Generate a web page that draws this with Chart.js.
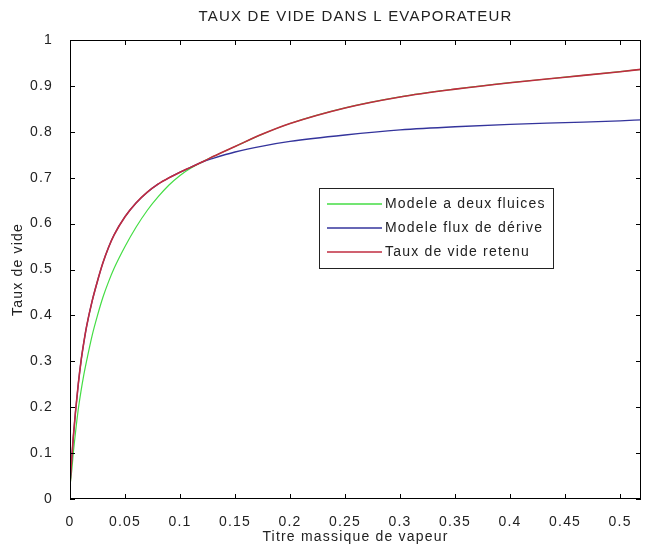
<!DOCTYPE html>
<html>
<head>
<meta charset="utf-8">
<script src="https://cdn.jsdelivr.net/npm/chart.js@4.4.1/dist/chart.umd.min.js"></script>
<style>
  html, body { margin: 0; padding: 0; background: #fff; }
</style>
</head>
<body>
<canvas id="graf" width="649" height="549"></canvas>
<script>
// Titre massique (axe x)
const titres = [0, 0.0015, 0.003, 0.005, 0.0075, 0.01, 0.0125, 0.015, 0.02, 0.025, 0.03, 0.035, 0.04, 0.05,
  0.06, 0.07, 0.08, 0.09, 0.1, 0.11, 0.12, 0.13, 0.15, 0.175, 0.2, 0.25, 0.3, 0.35, 0.4, 0.45, 0.5, 0.519];

// Taux de vide
const deuxFluides = [0.03, 0.06, 0.10, 0.145, 0.195, 0.235, 0.27, 0.30, 0.355, 0.40, 0.44, 0.473, 0.502, 0.55,
  0.592, 0.628, 0.658, 0.684, 0.705, 0.721, 0.734, 0.746, 0.768, 0.795, 0.818, 0.852, 0.876, 0.893, 0.907, 0.919, 0.931, 0.936];
const fluxDerive = [0.03, 0.085, 0.135, 0.19, 0.25, 0.30, 0.34, 0.375, 0.43, 0.475, 0.515, 0.548, 0.575, 0.615,
  0.645, 0.668, 0.686, 0.70, 0.712, 0.723, 0.734, 0.742, 0.756, 0.769, 0.779, 0.793, 0.804, 0.811, 0.816, 0.820, 0.824, 0.826];
const retenu = [0.03, 0.085, 0.135, 0.19, 0.25, 0.30, 0.34, 0.375, 0.43, 0.475, 0.515, 0.548, 0.575, 0.615,
  0.645, 0.668, 0.686, 0.70, 0.712, 0.723, 0.734, 0.746, 0.768, 0.795, 0.818, 0.852, 0.876, 0.893, 0.907, 0.919, 0.931, 0.936];

const labels = ["Modele a deux fluices", "Modele flux de dérive", "Taux de vide retenu"];
const couleurs = ["#44dd44", "#34349c", "#c02c40"];

// Graduations
const xTicks = [0, 0.05, 0.1, 0.15, 0.2, 0.25, 0.3, 0.35, 0.4, 0.45, 0.5];
const xTickLabels = ["0", "0.05", "0.1", "0.15", "0.2", "0.25", "0.3", "0.35", "0.4", "0.45", "0.5"];
const yTicks = [0, 0.1, 0.2, 0.3, 0.4, 0.5, 0.6, 0.7, 0.8, 0.9, 1];
const yTickLabels = ["0", "0.1", "0.2", "0.3", "0.4", "0.5", "0.6", "0.7", "0.8", "0.9", "1"];

const police = "'Liberation Sans', Arial, sans-serif";
const texte = "#222";

const points = serie => titres.map((t, i) => ({ x: t, y: serie[i] }));

// Cadre + petites graduations vers l'intérieur (style MATLAB) et légende dans l'axe
const cadre = {
  id: "cadre",
  beforeUpdate(chart) { chart.ctx.letterSpacing = "1.2px"; },
  beforeDraw(chart) { chart.ctx.letterSpacing = "1.2px"; },
  afterDraw(chart) {
    const { ctx, chartArea: a, scales: { x, y } } = chart;
    ctx.save();
    ctx.strokeStyle = "#000";
    ctx.lineWidth = 1;
    ctx.strokeRect(a.left + 0.5, a.top + 0.5, a.right - a.left - 1, a.bottom - a.top - 1);
    ctx.beginPath();
    xTicks.forEach(v => {
      const px = Math.round(x.getPixelForValue(v)) + 0.5;
      ctx.moveTo(px, a.bottom); ctx.lineTo(px, a.bottom - 5);
      ctx.moveTo(px, a.top); ctx.lineTo(px, a.top + 5);
    });
    yTicks.forEach(v => {
      const py = Math.round(y.getPixelForValue(v)) + 0.5;
      ctx.moveTo(a.left, py); ctx.lineTo(a.left + 5, py);
      ctx.moveTo(a.right, py); ctx.lineTo(a.right - 5, py);
    });
    ctx.stroke();

    // légende
    const bx = 319, by = 188, bw = 234, bh = 80;
    ctx.fillStyle = "#fff";
    ctx.fillRect(bx, by, bw, bh);
    ctx.strokeStyle = "#222";
    ctx.strokeRect(bx + 0.5, by + 0.5, bw, bh);
    ctx.font = "14px " + police;
    ctx.textBaseline = "middle";
    ctx.letterSpacing = "1.2px";
    chart.data.datasets.forEach((ds, i) => {
      const ly = by + 16 + i * 24;
      ctx.strokeStyle = ds.borderColor;
      ctx.lineWidth = 1.3;
      ctx.beginPath();
      ctx.moveTo(bx + 8, ly); ctx.lineTo(bx + 63, ly);
      ctx.stroke();
      ctx.fillStyle = texte;
      ctx.fillText(ds.label, bx + 66, ly);
    });
    ctx.restore();
  }
};

new Chart(document.getElementById("graf"), {
  type: "line",
  data: {
    datasets: [
      { label: labels[0], data: points(deuxFluides), borderColor: couleurs[0], borderWidth: 1.2, order: 2 },
      { label: labels[1], data: points(fluxDerive), borderColor: couleurs[1], borderWidth: 1.3, order: 1 },
      { label: labels[2], data: points(retenu), borderColor: couleurs[2], borderWidth: 1.6, order: 0 }
    ]
  },
  options: {
    responsive: false,
    animation: false,
    devicePixelRatio: 1,
    layout: { padding: { left: 0, right: 8, top: 0, bottom: 0 } },
    elements: {
      point: { radius: 0 },
      line: { cubicInterpolationMode: "monotone", fill: false }
    },
    plugins: {
      legend: { display: false },
      tooltip: { enabled: false },
      title: {
        display: true,
        fullSize: false,
        text: "TAUX DE VIDE DANS L EVAPORATEUR",
        color: texte,
        font: { family: police, size: 15, weight: "normal", lineHeight: 1.2 },
        padding: { top: 8, bottom: 14 }
      }
    },
    scales: {
      x: {
        type: "linear",
        min: 0,
        max: 0.519,
        afterBuildTicks: s => { s.ticks = xTicks.map(v => ({ value: v })); },
        afterFit: s => { s.height = 50; },
        grid: { display: false },
        border: { display: false },
        ticks: {
          color: texte,
          padding: 7,
          maxRotation: 0,
          autoSkip: false,
          font: { family: police, size: 14 },
          callback: (v, i) => xTickLabels[i]
        },
        title: {
          display: true,
          text: "Titre massique de vapeur",
          color: texte,
          font: { family: police, size: 14, lineHeight: 1.2 },
          padding: { top: 0, bottom: 3 }
        }
      },
      y: {
        min: 0,
        max: 1,
        afterBuildTicks: s => { s.ticks = yTicks.map(v => ({ value: v })); },
        afterFit: s => { s.width = 70; },
        grid: { display: false },
        border: { display: false },
        ticks: {
          color: texte,
          padding: 9,
          autoSkip: false,
          font: { family: police, size: 14 },
          callback: (v, i) => yTickLabels[i]
        },
        title: {
          display: true,
          text: "Taux de vide",
          color: texte,
          font: { family: police, size: 14, lineHeight: 1.2 },
          padding: { top: 10, bottom: 0 }
        }
      }
    }
  },
  plugins: [cadre]
});
</script>
</body>
</html>
